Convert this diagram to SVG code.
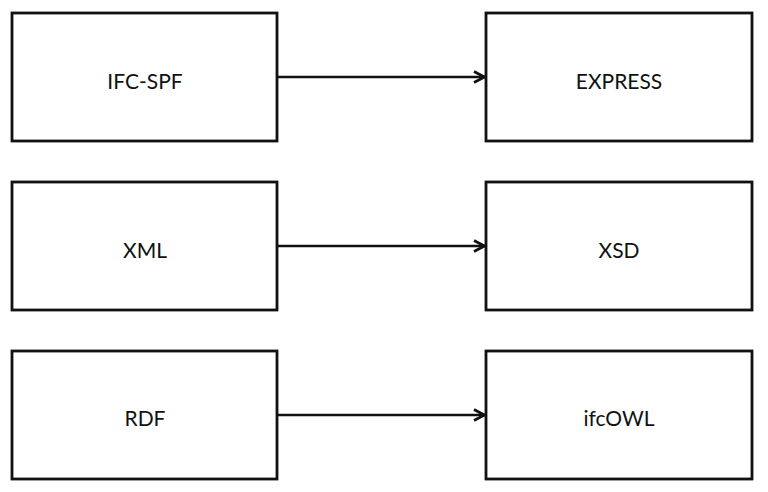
<svg xmlns="http://www.w3.org/2000/svg" width="768" height="492" viewBox="0 0 768 492">
<style>
.box{fill:#fff;stroke:#111;stroke-width:2.8}
.lbl{font-family:Lato,"Open Sans","Liberation Sans",sans-serif;font-size:21px;fill:#111;text-anchor:middle}
.con{stroke:#111;stroke-width:2.5;fill:none}
</style>
<defs>
<marker id="ah" markerWidth="14" markerHeight="14" refX="13" refY="7" orient="auto" markerUnits="userSpaceOnUse">
<path d="M2,1.5 L12.5,7 L2,12.5" fill="none" stroke="#111" stroke-width="2.8"/>
</marker>
</defs>
<rect width="768" height="492" fill="#fff"/>
<g id="n-ifcspf"><rect class="box" x="12" y="13" width="265" height="128"/><text class="lbl" x="145" y="89">IFC-SPF</text></g>
<g id="n-express"><rect class="box" x="486" y="13" width="266" height="128"/><text class="lbl" x="619" y="89">EXPRESS</text></g>
<g id="n-xml"><rect class="box" x="12" y="182" width="265" height="128"/><text class="lbl" x="145" y="258">XML</text></g>
<g id="n-xsd"><rect class="box" x="486" y="182" width="266" height="128"/><text class="lbl" x="619" y="258">XSD</text></g>
<g id="n-rdf"><rect class="box" x="12" y="351" width="265" height="128"/><text class="lbl" x="145" y="426">RDF</text></g>
<g id="n-ifcowl"><rect class="box" x="486" y="351" width="266" height="128"/><text class="lbl" x="619" y="426">ifcOWL</text></g>
<g id="connectors">
<line class="con" x1="277" y1="77" x2="485" y2="77" marker-end="url(#ah)"/>
<line class="con" x1="277" y1="246" x2="485" y2="246" marker-end="url(#ah)"/>
<line class="con" x1="277" y1="415" x2="485" y2="415" marker-end="url(#ah)"/>
</g>
</svg>
